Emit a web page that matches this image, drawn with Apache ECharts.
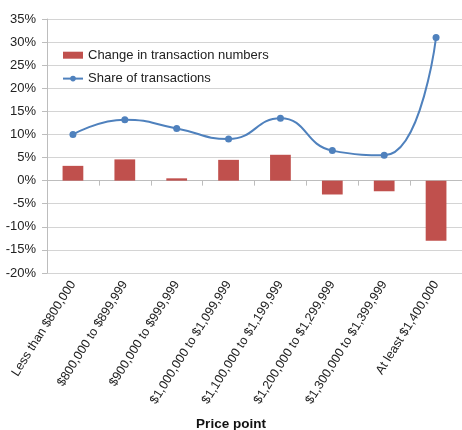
<!DOCTYPE html>
<html>
<head>
    <title>Price point</title>
    <script src="https://cdn.jsdelivr.net/npm/echarts@6/dist/echarts.min.js"></script>
    <style>
        body { margin: 0; background: #fff; }
        #chart { width: 462px; height: 430px; }
    </style>
</head>
<body>
    <div id="chart"></div>
    <script>
        var categories = ['Less than $800,000', '$800,000 to $899,999', '$900,000 to $999,999',
                          '$1,000,000 to $1,099,999', '$1,100,000 to $1,199,999', '$1,200,000 to $1,299,999',
                          '$1,300,000 to $1,399,999', 'At least $1,400,000'];
        var changeNumbers = [3.2, 4.6, 0.5, 4.5, 5.6, -3.0, -2.3, -13.0];
        var shareTransactions = [10.0, 13.2, 11.3, 9.0, 13.5, 6.5, 5.5, 31.0];

        var font = 'Liberation Sans, Arial, sans-serif';
        var chart = echarts.init(document.getElementById('chart'));
        chart.setOption({
            animation: false,
            textStyle: { fontFamily: font },
            // x axis title is centred on the whole picture, not the plot
            title: {
                text: 'Price point',
                left: 'center', top: 413,
                padding: 0,
                textStyle: { fontWeight: 'bold', fontSize: 13.5, color: '#111', fontFamily: font }
            },
            grid: { left: 47, right: 0, top: 19, bottom: 157, outerBoundsMode: 'none', containLabel: false },
            legend: {
                orient: 'vertical',
                left: 62, top: 44,
                itemGap: 1,
                itemWidth: 20, itemHeight: 7,
                padding: 0,
                textStyle: { fontSize: 13, color: '#222', fontFamily: font },
                data: [
                    { name: 'Change in transaction numbers', icon: 'rect' },
                    { name: 'Share of transactions' }
                ]
            },
            xAxis: [{
                type: 'category',
                data: categories,
                position: 'bottom',
                axisLine: { show: false, onZero: false },
                axisTick: { show: false },
                axisLabel: { rotate: 58, interval: 0, fontSize: 12.5, color: '#222', margin: 9 }
            }, {
                type: 'category',
                data: categories,
                position: 'bottom',
                axisLine: { show: true, onZero: true, lineStyle: { color: '#bdbdbd' } },
                axisTick: { show: true, interval: 0, inside: false, length: 5, lineStyle: { color: '#bdbdbd' } },
                axisLabel: { show: false }
            }],
            yAxis: {
                type: 'value',
                min: -20, max: 35, interval: 5,
                axisLine: { show: true, lineStyle: { color: '#bdbdbd' } },
                axisTick: { show: true, length: 5, lineStyle: { color: '#bdbdbd' } },
                axisLabel: { formatter: '{value}%', fontSize: 13, color: '#222', margin: 11 },
                splitLine: { lineStyle: { color: '#d4d4d4' } }
            },
            series: [{
                name: 'Change in transaction numbers',
                type: 'bar',
                data: changeNumbers,
                barWidth: '40%',
                itemStyle: { color: '#C0504D' }
            }, {
                name: 'Share of transactions',
                type: 'line',
                data: shareTransactions,
                smooth: true,
                symbol: 'circle',
                symbolSize: 7,
                lineStyle: { color: '#4F81BD', width: 2 },
                itemStyle: { color: '#4F81BD' }
            }]
        });
    </script>
</body>
</html>
